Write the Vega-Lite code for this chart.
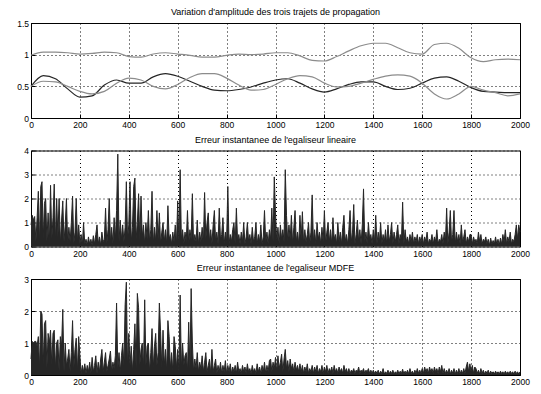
{
"$schema": "https://vega.github.io/schema/vega-lite/v6.json",
"padding": {"left": 16, "top": 7, "right": 5, "bottom": 3},
"spacing": 4.5,
"config": {
 "font": "Liberation Sans",
 "view": {"stroke": "#000", "strokeWidth": 1},
 "axis": {"grid": true, "gridColor": "#000", "gridDash": [1, 3], "gridOpacity": 1, "gridWidth": 1, "domain": false, "ticks": true, "tickSize": -4, "tickColor": "#000", "labelFontSize": 8.5, "labelColor": "#000", "labelPadding": 6.5, "labelFont": "Liberation Sans", "labelFlush": false},
 "title": {"fontSize": 9, "fontWeight": "normal", "color": "#000", "offset": 2, "anchor": "middle", "font": "Liberation Sans"}
},
"datasets": {
 "amp": [
  {"s":"a","x":0,"y":0.99},{"s":"a","x":50,"y":1.04},{"s":"a","x":100,"y":1.04},{"s":"a","x":150,"y":1.03},{"s":"a","x":200,"y":1.01},{"s":"a","x":250,"y":1.02},{"s":"a","x":300,"y":1.04},{"s":"a","x":350,"y":1.03},{"s":"a","x":400,"y":0.97},{"s":"a","x":450,"y":0.96},{"s":"a","x":500,"y":1.01},{"s":"a","x":550,"y":1.03},{"s":"a","x":600,"y":1.01},{"s":"a","x":650,"y":0.99},{"s":"a","x":700,"y":0.96},{"s":"a","x":750,"y":0.96},{"s":"a","x":800,"y":0.99},{"s":"a","x":850,"y":1.01},{"s":"a","x":900,"y":1.0},{"s":"a","x":950,"y":1.01},{"s":"a","x":1000,"y":1.03},{"s":"a","x":1050,"y":1.03},{"s":"a","x":1100,"y":0.98},{"s":"a","x":1150,"y":0.91},{"s":"a","x":1200,"y":0.9},{"s":"a","x":1250,"y":0.97},{"s":"a","x":1300,"y":1.06},{"s":"a","x":1350,"y":1.14},{"s":"a","x":1400,"y":1.18},{"s":"a","x":1450,"y":1.18},{"s":"a","x":1500,"y":1.11},{"s":"a","x":1550,"y":1.03},{"s":"a","x":1600,"y":1.01},{"s":"a","x":1650,"y":1.16},{"s":"a","x":1700,"y":1.18},{"s":"a","x":1750,"y":1.1},{"s":"a","x":1800,"y":0.95},{"s":"a","x":1850,"y":0.89},{"s":"a","x":1900,"y":0.92},{"s":"a","x":1950,"y":0.93},{"s":"a","x":2000,"y":0.92},
  {"s":"b","x":0,"y":0.5},{"s":"b","x":50,"y":0.67},{"s":"b","x":100,"y":0.62},{"s":"b","x":150,"y":0.46},{"s":"b","x":200,"y":0.33},{"s":"b","x":250,"y":0.35},{"s":"b","x":300,"y":0.52},{"s":"b","x":350,"y":0.6},{"s":"b","x":400,"y":0.55},{"s":"b","x":450,"y":0.55},{"s":"b","x":500,"y":0.65},{"s":"b","x":550,"y":0.7},{"s":"b","x":600,"y":0.66},{"s":"b","x":650,"y":0.58},{"s":"b","x":700,"y":0.5},{"s":"b","x":750,"y":0.44},{"s":"b","x":800,"y":0.43},{"s":"b","x":850,"y":0.45},{"s":"b","x":900,"y":0.49},{"s":"b","x":950,"y":0.55},{"s":"b","x":1000,"y":0.6},{"s":"b","x":1050,"y":0.62},{"s":"b","x":1100,"y":0.55},{"s":"b","x":1150,"y":0.46},{"s":"b","x":1200,"y":0.41},{"s":"b","x":1250,"y":0.46},{"s":"b","x":1300,"y":0.53},{"s":"b","x":1350,"y":0.57},{"s":"b","x":1400,"y":0.57},{"s":"b","x":1450,"y":0.5},{"s":"b","x":1500,"y":0.45},{"s":"b","x":1550,"y":0.47},{"s":"b","x":1600,"y":0.55},{"s":"b","x":1650,"y":0.63},{"s":"b","x":1700,"y":0.65},{"s":"b","x":1750,"y":0.58},{"s":"b","x":1800,"y":0.48},{"s":"b","x":1850,"y":0.42},{"s":"b","x":1900,"y":0.41},{"s":"b","x":1950,"y":0.4},{"s":"b","x":2000,"y":0.4},
  {"s":"c","x":0,"y":0.5},{"s":"c","x":50,"y":0.58},{"s":"c","x":100,"y":0.57},{"s":"c","x":150,"y":0.5},{"s":"c","x":200,"y":0.42},{"s":"c","x":250,"y":0.38},{"s":"c","x":300,"y":0.42},{"s":"c","x":350,"y":0.55},{"s":"c","x":400,"y":0.63},{"s":"c","x":450,"y":0.6},{"s":"c","x":500,"y":0.5},{"s":"c","x":550,"y":0.46},{"s":"c","x":600,"y":0.53},{"s":"c","x":650,"y":0.64},{"s":"c","x":700,"y":0.7},{"s":"c","x":750,"y":0.7},{"s":"c","x":800,"y":0.63},{"s":"c","x":850,"y":0.52},{"s":"c","x":900,"y":0.44},{"s":"c","x":950,"y":0.45},{"s":"c","x":1000,"y":0.53},{"s":"c","x":1050,"y":0.62},{"s":"c","x":1100,"y":0.67},{"s":"c","x":1150,"y":0.65},{"s":"c","x":1200,"y":0.55},{"s":"c","x":1250,"y":0.49},{"s":"c","x":1300,"y":0.5},{"s":"c","x":1350,"y":0.55},{"s":"c","x":1400,"y":0.61},{"s":"c","x":1450,"y":0.66},{"s":"c","x":1500,"y":0.68},{"s":"c","x":1550,"y":0.66},{"s":"c","x":1600,"y":0.55},{"s":"c","x":1650,"y":0.38},{"s":"c","x":1700,"y":0.3},{"s":"c","x":1750,"y":0.38},{"s":"c","x":1800,"y":0.5},{"s":"c","x":1850,"y":0.44},{"s":"c","x":1900,"y":0.4},{"s":"c","x":1950,"y":0.35},{"s":"c","x":2000,"y":0.38}
 ],
 "lin": [
  {"x":0,"y":0.9},{"x":5,"y":1.3},{"x":10,"y":1.1},{"x":15,"y":1.25},{"x":20,"y":0.2},{"x":25,"y":1.2},{"x":30,"y":2.3},{"x":35,"y":0.1},{"x":40,"y":2.5},{"x":45,"y":2.7},{"x":50,"y":0.3},{"x":55,"y":1.8},{"x":60,"y":2.0},{"x":65,"y":0.2},{"x":70,"y":1.4},{"x":75,"y":0.1},{"x":80,"y":2.55},{"x":85,"y":0.3},{"x":90,"y":1.2},{"x":95,"y":2.6},
  {"x":100,"y":0.2},{"x":105,"y":2.0},{"x":110,"y":0.4},{"x":115,"y":2.0},{"x":120,"y":0.1},{"x":125,"y":1.1},{"x":130,"y":1.9},{"x":135,"y":0.2},{"x":140,"y":0.9},{"x":145,"y":2.0},{"x":150,"y":0.1},{"x":155,"y":0.8},{"x":160,"y":0.2},{"x":165,"y":1.0},{"x":170,"y":2.1},{"x":175,"y":0.1},{"x":180,"y":0.6},{"x":185,"y":2.0},{"x":190,"y":0.2},{"x":195,"y":0.9},
  {"x":200,"y":0.1},{"x":205,"y":0.5},{"x":210,"y":0.05},{"x":215,"y":1.0},{"x":220,"y":0.1},{"x":225,"y":0.3},{"x":230,"y":0.05},{"x":235,"y":0.4},{"x":240,"y":0.1},{"x":245,"y":0.3},{"x":250,"y":0.05},{"x":255,"y":0.45},{"x":260,"y":0.1},{"x":265,"y":0.5},{"x":270,"y":0.9},{"x":275,"y":0.1},{"x":280,"y":0.4},{"x":285,"y":0.05},{"x":290,"y":0.6},{"x":295,"y":0.2},
  {"x":300,"y":0.3},{"x":305,"y":1.6},{"x":310,"y":0.1},{"x":315,"y":0.7},{"x":320,"y":2.0},{"x":325,"y":0.2},{"x":330,"y":0.8},{"x":335,"y":0.1},{"x":340,"y":1.2},{"x":345,"y":0.3},{"x":350,"y":1.5},{"x":355,"y":3.85},{"x":360,"y":0.2},{"x":365,"y":1.1},{"x":370,"y":0.3},{"x":375,"y":0.9},{"x":380,"y":0.2},{"x":385,"y":0.8},{"x":390,"y":2.7},{"x":395,"y":0.3},
  {"x":400,"y":0.9},{"x":405,"y":2.7},{"x":410,"y":0.2},{"x":415,"y":0.8},{"x":420,"y":2.5},{"x":425,"y":2.85},{"x":430,"y":0.3},{"x":435,"y":1.0},{"x":440,"y":2.2},{"x":445,"y":0.2},{"x":450,"y":2.1},{"x":455,"y":0.4},{"x":460,"y":0.9},{"x":465,"y":0.1},{"x":470,"y":1.0},{"x":475,"y":0.3},{"x":480,"y":1.5},{"x":485,"y":0.2},{"x":490,"y":0.7},{"x":495,"y":2.3},
  {"x":500,"y":0.1},{"x":505,"y":0.8},{"x":510,"y":0.2},{"x":515,"y":1.5},{"x":520,"y":0.3},{"x":525,"y":1.4},{"x":530,"y":0.1},{"x":535,"y":0.6},{"x":540,"y":1.0},{"x":545,"y":0.2},{"x":550,"y":0.7},{"x":555,"y":0.1},{"x":560,"y":1.7},{"x":565,"y":0.3},{"x":570,"y":0.5},{"x":575,"y":0.1},{"x":580,"y":0.6},{"x":585,"y":0.2},{"x":590,"y":0.9},{"x":595,"y":0.1},
  {"x":600,"y":1.9},{"x":605,"y":0.2},{"x":610,"y":3.2},{"x":615,"y":0.3},{"x":620,"y":0.7},{"x":625,"y":0.1},{"x":630,"y":0.6},{"x":635,"y":0.2},{"x":640,"y":1.5},{"x":645,"y":0.1},{"x":650,"y":0.7},{"x":655,"y":0.3},{"x":660,"y":2.2},{"x":665,"y":0.1},{"x":670,"y":0.5},{"x":675,"y":0.2},{"x":680,"y":1.1},{"x":685,"y":0.1},{"x":690,"y":0.6},{"x":695,"y":0.2},
  {"x":700,"y":0.8},{"x":705,"y":0.1},{"x":710,"y":2.25},{"x":715,"y":0.3},{"x":720,"y":1.0},{"x":725,"y":1.4},{"x":730,"y":0.2},{"x":735,"y":0.7},{"x":740,"y":0.1},{"x":745,"y":0.9},{"x":750,"y":1.5},{"x":755,"y":0.2},{"x":760,"y":0.6},{"x":765,"y":0.1},{"x":770,"y":1.6},{"x":775,"y":0.3},{"x":780,"y":0.5},{"x":785,"y":1.2},{"x":790,"y":0.1},{"x":795,"y":0.6},
  {"x":800,"y":0.2},{"x":805,"y":2.5},{"x":810,"y":0.1},{"x":815,"y":0.5},{"x":820,"y":0.2},{"x":825,"y":0.7},{"x":830,"y":1.0},{"x":835,"y":0.1},{"x":840,"y":1.6},{"x":845,"y":0.2},{"x":850,"y":0.5},{"x":855,"y":0.1},{"x":860,"y":0.6},{"x":865,"y":0.2},{"x":870,"y":1.0},{"x":875,"y":0.1},{"x":880,"y":0.4},{"x":885,"y":1.0},{"x":890,"y":0.2},{"x":895,"y":0.5},
  {"x":900,"y":0.1},{"x":905,"y":0.8},{"x":910,"y":0.2},{"x":915,"y":0.4},{"x":920,"y":1.0},{"x":925,"y":0.1},{"x":930,"y":0.5},{"x":935,"y":0.2},{"x":940,"y":0.9},{"x":945,"y":0.1},{"x":950,"y":0.4},{"x":955,"y":1.5},{"x":960,"y":0.2},{"x":965,"y":0.6},{"x":970,"y":0.1},{"x":975,"y":0.7},{"x":980,"y":0.3},{"x":985,"y":1.6},{"x":990,"y":0.2},{"x":995,"y":2.9},
  {"x":1000,"y":1.4},{"x":1005,"y":0.2},{"x":1010,"y":0.8},{"x":1015,"y":0.1},{"x":1020,"y":0.9},{"x":1025,"y":0.3},{"x":1030,"y":0.7},{"x":1035,"y":0.2},{"x":1040,"y":3.2},{"x":1045,"y":1.3},{"x":1050,"y":0.2},{"x":1055,"y":0.9},{"x":1060,"y":0.3},{"x":1065,"y":1.3},{"x":1070,"y":0.1},{"x":1075,"y":0.8},{"x":1080,"y":1.5},{"x":1085,"y":0.2},{"x":1090,"y":0.6},{"x":1095,"y":0.1},
  {"x":1100,"y":1.3},{"x":1105,"y":0.3},{"x":1110,"y":1.45},{"x":1115,"y":0.1},{"x":1120,"y":0.7},{"x":1125,"y":0.2},{"x":1130,"y":0.5},{"x":1135,"y":1.0},{"x":1140,"y":0.1},{"x":1145,"y":0.6},{"x":1150,"y":2.15},{"x":1155,"y":0.2},{"x":1160,"y":0.7},{"x":1165,"y":0.1},{"x":1170,"y":1.0},{"x":1175,"y":0.3},{"x":1180,"y":0.6},{"x":1185,"y":0.1},{"x":1190,"y":0.8},{"x":1195,"y":0.2},
  {"x":1200,"y":1.5},{"x":1205,"y":0.1},{"x":1210,"y":0.6},{"x":1215,"y":1.0},{"x":1220,"y":0.2},{"x":1225,"y":0.7},{"x":1230,"y":0.1},{"x":1235,"y":1.2},{"x":1240,"y":0.3},{"x":1245,"y":0.5},{"x":1250,"y":0.1},{"x":1255,"y":1.0},{"x":1260,"y":0.2},{"x":1265,"y":0.6},{"x":1270,"y":0.1},{"x":1275,"y":0.8},{"x":1280,"y":1.3},{"x":1285,"y":0.2},{"x":1290,"y":0.5},{"x":1295,"y":0.1},
  {"x":1300,"y":0.7},{"x":1305,"y":1.5},{"x":1310,"y":0.2},{"x":1315,"y":0.6},{"x":1320,"y":1.75},{"x":1325,"y":0.1},{"x":1330,"y":0.5},{"x":1335,"y":1.1},{"x":1340,"y":0.2},{"x":1345,"y":0.7},{"x":1350,"y":0.1},{"x":1355,"y":0.9},{"x":1360,"y":2.4},{"x":1365,"y":0.2},{"x":1370,"y":0.6},{"x":1375,"y":0.1},{"x":1380,"y":1.0},{"x":1385,"y":0.3},{"x":1390,"y":0.5},{"x":1395,"y":0.1},
  {"x":1400,"y":0.7},{"x":1405,"y":0.2},{"x":1410,"y":1.3},{"x":1415,"y":0.1},{"x":1420,"y":0.6},{"x":1425,"y":0.2},{"x":1430,"y":1.0},{"x":1435,"y":0.1},{"x":1440,"y":0.5},{"x":1445,"y":0.2},{"x":1450,"y":0.7},{"x":1455,"y":0.1},{"x":1460,"y":0.9},{"x":1465,"y":0.2},{"x":1470,"y":0.5},{"x":1475,"y":1.0},{"x":1480,"y":0.1},{"x":1485,"y":0.6},{"x":1490,"y":0.2},{"x":1495,"y":0.5},
  {"x":1500,"y":0.9},{"x":1505,"y":0.1},{"x":1510,"y":0.5},{"x":1515,"y":0.2},{"x":1520,"y":1.85},{"x":1525,"y":0.1},{"x":1530,"y":0.7},{"x":1535,"y":0.2},{"x":1540,"y":0.4},{"x":1545,"y":0.1},{"x":1550,"y":0.5},{"x":1555,"y":0.2},{"x":1560,"y":0.6},{"x":1565,"y":0.1},{"x":1570,"y":0.4},{"x":1575,"y":0.2},{"x":1580,"y":0.5},{"x":1585,"y":0.1},{"x":1590,"y":0.4},{"x":1595,"y":0.2},
  {"x":1600,"y":0.5},{"x":1605,"y":0.1},{"x":1610,"y":0.4},{"x":1615,"y":0.2},{"x":1620,"y":0.6},{"x":1625,"y":0.1},{"x":1630,"y":0.3},{"x":1635,"y":0.2},{"x":1640,"y":0.5},{"x":1645,"y":0.1},{"x":1650,"y":0.4},{"x":1655,"y":0.2},{"x":1660,"y":0.7},{"x":1665,"y":0.1},{"x":1670,"y":0.3},{"x":1675,"y":0.2},{"x":1680,"y":0.5},{"x":1685,"y":0.1},{"x":1690,"y":0.6},{"x":1695,"y":0.2},
  {"x":1700,"y":1.6},{"x":1705,"y":0.1},{"x":1710,"y":0.6},{"x":1715,"y":1.5},{"x":1720,"y":0.2},{"x":1725,"y":0.5},{"x":1730,"y":1.5},{"x":1735,"y":0.1},{"x":1740,"y":0.6},{"x":1745,"y":0.2},{"x":1750,"y":0.5},{"x":1755,"y":0.1},{"x":1760,"y":0.9},{"x":1765,"y":0.2},{"x":1770,"y":0.4},{"x":1775,"y":0.7},{"x":1780,"y":0.1},{"x":1785,"y":0.4},{"x":1790,"y":0.2},{"x":1795,"y":0.5},
  {"x":1800,"y":0.5},{"x":1805,"y":0.1},{"x":1810,"y":0.4},{"x":1815,"y":0.2},{"x":1820,"y":0.3},{"x":1825,"y":0.1},{"x":1830,"y":0.6},{"x":1835,"y":0.2},{"x":1840,"y":0.5},{"x":1845,"y":0.1},{"x":1850,"y":0.3},{"x":1855,"y":0.2},{"x":1860,"y":0.4},{"x":1865,"y":0.1},{"x":1870,"y":0.3},{"x":1875,"y":0.05},{"x":1880,"y":0.35},{"x":1885,"y":0.1},{"x":1890,"y":0.25},{"x":1895,"y":0.1},
  {"x":1900,"y":0.4},{"x":1905,"y":0.1},{"x":1910,"y":0.3},{"x":1915,"y":0.05},{"x":1920,"y":0.35},{"x":1925,"y":0.1},{"x":1930,"y":0.5},{"x":1935,"y":0.2},{"x":1940,"y":0.7},{"x":1945,"y":0.1},{"x":1950,"y":0.4},{"x":1955,"y":0.2},{"x":1960,"y":0.6},{"x":1965,"y":0.1},{"x":1970,"y":0.3},{"x":1975,"y":0.2},{"x":1980,"y":0.5},{"x":1985,"y":0.9},{"x":1990,"y":0.3},{"x":1995,"y":0.9},{"x":2000,"y":0.6}
 ],
 "mdfe": [
  {"x":0,"y":0.5},{"x":5,"y":1.05},{"x":10,"y":1.0},{"x":15,"y":1.05},{"x":20,"y":1.05},{"x":25,"y":0.9},{"x":30,"y":1.2},{"x":35,"y":0.2},{"x":40,"y":2.0},{"x":45,"y":1.9},{"x":50,"y":0.3},{"x":55,"y":1.6},{"x":60,"y":1.7},{"x":65,"y":0.2},{"x":70,"y":1.3},{"x":75,"y":1.0},{"x":80,"y":1.4},{"x":85,"y":0.3},{"x":90,"y":1.3},{"x":95,"y":1.4},
  {"x":100,"y":0.2},{"x":105,"y":1.0},{"x":110,"y":1.1},{"x":115,"y":0.1},{"x":120,"y":1.2},{"x":125,"y":0.9},{"x":130,"y":2.05},{"x":135,"y":0.1},{"x":140,"y":1.0},{"x":145,"y":0.3},{"x":150,"y":0.5},{"x":155,"y":0.8},{"x":160,"y":0.1},{"x":165,"y":0.7},{"x":170,"y":1.7},{"x":175,"y":0.2},{"x":180,"y":0.8},{"x":185,"y":1.15},{"x":190,"y":0.1},{"x":195,"y":1.2},
  {"x":200,"y":0.6},{"x":205,"y":0.05},{"x":210,"y":0.3},{"x":215,"y":0.1},{"x":220,"y":0.35},{"x":225,"y":0.05},{"x":230,"y":0.3},{"x":235,"y":0.1},{"x":240,"y":0.4},{"x":245,"y":0.05},{"x":250,"y":0.55},{"x":255,"y":0.1},{"x":260,"y":0.3},{"x":265,"y":0.6},{"x":270,"y":0.05},{"x":275,"y":0.4},{"x":280,"y":0.1},{"x":285,"y":0.5},{"x":290,"y":0.8},{"x":295,"y":0.1},
  {"x":300,"y":0.4},{"x":305,"y":0.7},{"x":310,"y":0.1},{"x":315,"y":0.3},{"x":320,"y":0.5},{"x":325,"y":0.75},{"x":330,"y":0.1},{"x":335,"y":0.4},{"x":340,"y":0.2},{"x":345,"y":0.6},{"x":350,"y":2.25},{"x":355,"y":0.2},{"x":360,"y":0.7},{"x":365,"y":0.1},{"x":370,"y":0.6},{"x":375,"y":1.0},{"x":380,"y":0.3},{"x":385,"y":2.2},{"x":390,"y":2.9},{"x":395,"y":0.2},
  {"x":400,"y":1.3},{"x":405,"y":0.3},{"x":410,"y":0.9},{"x":415,"y":0.1},{"x":420,"y":0.8},{"x":425,"y":1.6},{"x":430,"y":0.2},{"x":435,"y":2.55},{"x":440,"y":2.1},{"x":445,"y":0.3},{"x":450,"y":0.8},{"x":455,"y":1.0},{"x":460,"y":0.2},{"x":465,"y":2.35},{"x":470,"y":0.3},{"x":475,"y":0.9},{"x":480,"y":1.0},{"x":485,"y":0.1},{"x":490,"y":0.7},{"x":495,"y":1.45},
  {"x":500,"y":0.2},{"x":505,"y":0.9},{"x":510,"y":1.3},{"x":515,"y":0.3},{"x":520,"y":0.7},{"x":525,"y":2.25},{"x":530,"y":1.35},{"x":535,"y":0.2},{"x":540,"y":1.4},{"x":545,"y":0.3},{"x":550,"y":0.8},{"x":555,"y":0.1},{"x":560,"y":1.7},{"x":565,"y":1.2},{"x":570,"y":0.2},{"x":575,"y":0.7},{"x":580,"y":0.1},{"x":585,"y":1.2},{"x":590,"y":0.9},{"x":595,"y":0.2},
  {"x":600,"y":0.8},{"x":605,"y":0.1},{"x":610,"y":2.5},{"x":615,"y":0.2},{"x":620,"y":1.0},{"x":625,"y":0.3},{"x":630,"y":0.6},{"x":635,"y":0.7},{"x":640,"y":0.1},{"x":645,"y":1.65},{"x":650,"y":0.2},{"x":655,"y":2.7},{"x":660,"y":1.0},{"x":665,"y":0.1},{"x":670,"y":0.5},{"x":675,"y":0.2},{"x":680,"y":0.7},{"x":685,"y":0.1},{"x":690,"y":0.4},{"x":695,"y":0.2},
  {"x":700,"y":0.6},{"x":705,"y":0.1},{"x":710,"y":0.4},{"x":715,"y":0.7},{"x":720,"y":0.1},{"x":725,"y":0.3},{"x":730,"y":0.5},{"x":735,"y":0.05},{"x":740,"y":0.8},{"x":745,"y":0.1},{"x":750,"y":0.3},{"x":755,"y":0.5},{"x":760,"y":0.05},{"x":765,"y":0.3},{"x":770,"y":0.1},{"x":775,"y":0.4},{"x":780,"y":0.05},{"x":785,"y":0.3},{"x":790,"y":0.1},{"x":795,"y":0.45},
  {"x":800,"y":0.05},{"x":805,"y":0.3},{"x":810,"y":0.1},{"x":815,"y":0.35},{"x":820,"y":0.05},{"x":825,"y":0.25},{"x":830,"y":0.1},{"x":835,"y":0.3},{"x":840,"y":0.05},{"x":845,"y":0.4},{"x":850,"y":0.1},{"x":855,"y":0.2},{"x":860,"y":0.05},{"x":865,"y":0.3},{"x":870,"y":0.1},{"x":875,"y":0.25},{"x":880,"y":0.05},{"x":885,"y":0.35},{"x":890,"y":0.1},{"x":895,"y":0.2},
  {"x":900,"y":0.05},{"x":905,"y":0.3},{"x":910,"y":0.1},{"x":915,"y":0.2},{"x":920,"y":0.05},{"x":925,"y":0.35},{"x":930,"y":0.1},{"x":935,"y":0.25},{"x":940,"y":0.05},{"x":945,"y":0.3},{"x":950,"y":0.1},{"x":955,"y":0.4},{"x":960,"y":0.05},{"x":965,"y":0.3},{"x":970,"y":0.1},{"x":975,"y":0.45},{"x":980,"y":0.5},{"x":985,"y":0.1},{"x":990,"y":0.4},{"x":995,"y":0.2},
  {"x":1000,"y":0.55},{"x":1005,"y":0.1},{"x":1010,"y":0.6},{"x":1015,"y":0.2},{"x":1020,"y":0.4},{"x":1025,"y":0.65},{"x":1030,"y":0.1},{"x":1035,"y":0.5},{"x":1040,"y":0.8},{"x":1045,"y":0.2},{"x":1050,"y":0.45},{"x":1055,"y":0.1},{"x":1060,"y":0.5},{"x":1065,"y":0.2},{"x":1070,"y":0.35},{"x":1075,"y":0.1},{"x":1080,"y":0.4},{"x":1085,"y":0.15},{"x":1090,"y":0.3},{"x":1095,"y":0.1},
  {"x":1100,"y":0.35},{"x":1105,"y":0.1},{"x":1110,"y":0.3},{"x":1115,"y":0.05},{"x":1120,"y":0.25},{"x":1125,"y":0.1},{"x":1130,"y":0.35},{"x":1135,"y":0.05},{"x":1140,"y":0.2},{"x":1145,"y":0.1},{"x":1150,"y":0.3},{"x":1155,"y":0.05},{"x":1160,"y":0.25},{"x":1165,"y":0.1},{"x":1170,"y":0.3},{"x":1175,"y":0.05},{"x":1180,"y":0.2},{"x":1185,"y":0.1},{"x":1190,"y":0.3},{"x":1195,"y":0.05},
  {"x":1200,"y":0.25},{"x":1205,"y":0.1},{"x":1210,"y":0.3},{"x":1215,"y":0.05},{"x":1220,"y":0.2},{"x":1225,"y":0.1},{"x":1230,"y":0.25},{"x":1235,"y":0.05},{"x":1240,"y":0.3},{"x":1245,"y":0.1},{"x":1250,"y":0.2},{"x":1255,"y":0.05},{"x":1260,"y":0.25},{"x":1265,"y":0.1},{"x":1270,"y":0.2},{"x":1275,"y":0.05},{"x":1280,"y":0.3},{"x":1285,"y":0.1},{"x":1290,"y":0.2},{"x":1295,"y":0.05},
  {"x":1300,"y":0.2},{"x":1305,"y":0.05},{"x":1310,"y":0.15},{"x":1315,"y":0.1},{"x":1320,"y":0.2},{"x":1325,"y":0.05},{"x":1330,"y":0.15},{"x":1335,"y":0.1},{"x":1340,"y":0.25},{"x":1345,"y":0.05},{"x":1350,"y":0.15},{"x":1355,"y":0.1},{"x":1360,"y":0.2},{"x":1365,"y":0.05},{"x":1370,"y":0.15},{"x":1375,"y":0.1},{"x":1380,"y":0.2},{"x":1385,"y":0.05},{"x":1390,"y":0.15},{"x":1395,"y":0.05},
  {"x":1400,"y":0.15},{"x":1405,"y":0.05},{"x":1410,"y":0.12},{"x":1415,"y":0.05},{"x":1420,"y":0.15},{"x":1425,"y":0.03},{"x":1430,"y":0.12},{"x":1435,"y":0.05},{"x":1440,"y":0.2},{"x":1445,"y":0.03},{"x":1450,"y":0.1},{"x":1455,"y":0.05},{"x":1460,"y":0.15},{"x":1465,"y":0.03},{"x":1470,"y":0.12},{"x":1475,"y":0.05},{"x":1480,"y":0.15},{"x":1485,"y":0.03},{"x":1490,"y":0.1},{"x":1495,"y":0.05},
  {"x":1500,"y":0.15},{"x":1505,"y":0.03},{"x":1510,"y":0.12},{"x":1515,"y":0.05},{"x":1520,"y":0.18},{"x":1525,"y":0.03},{"x":1530,"y":0.12},{"x":1535,"y":0.05},{"x":1540,"y":0.15},{"x":1545,"y":0.03},{"x":1550,"y":0.2},{"x":1555,"y":0.05},{"x":1560,"y":0.12},{"x":1565,"y":0.03},{"x":1570,"y":0.15},{"x":1575,"y":0.05},{"x":1580,"y":0.2},{"x":1585,"y":0.05},{"x":1590,"y":0.15},{"x":1595,"y":0.05},
  {"x":1600,"y":0.2},{"x":1605,"y":0.05},{"x":1610,"y":0.25},{"x":1615,"y":0.1},{"x":1620,"y":0.2},{"x":1625,"y":0.05},{"x":1630,"y":0.25},{"x":1635,"y":0.1},{"x":1640,"y":0.2},{"x":1645,"y":0.05},{"x":1650,"y":0.25},{"x":1655,"y":0.1},{"x":1660,"y":0.2},{"x":1665,"y":0.05},{"x":1670,"y":0.25},{"x":1675,"y":0.1},{"x":1680,"y":0.3},{"x":1685,"y":0.05},{"x":1690,"y":0.2},{"x":1695,"y":0.05},
  {"x":1700,"y":0.15},{"x":1705,"y":0.05},{"x":1710,"y":0.2},{"x":1715,"y":0.03},{"x":1720,"y":0.15},{"x":1725,"y":0.05},{"x":1730,"y":0.2},{"x":1735,"y":0.03},{"x":1740,"y":0.15},{"x":1745,"y":0.05},{"x":1750,"y":0.2},{"x":1755,"y":0.03},{"x":1760,"y":0.15},{"x":1765,"y":0.05},{"x":1770,"y":0.2},{"x":1775,"y":0.05},{"x":1780,"y":0.25},{"x":1785,"y":0.4},{"x":1790,"y":0.1},{"x":1795,"y":0.35},
  {"x":1800,"y":0.1},{"x":1805,"y":0.3},{"x":1810,"y":0.05},{"x":1815,"y":0.25},{"x":1820,"y":0.2},{"x":1825,"y":0.05},{"x":1830,"y":0.15},{"x":1835,"y":0.03},{"x":1840,"y":0.2},{"x":1845,"y":0.05},{"x":1850,"y":0.15},{"x":1855,"y":0.03},{"x":1860,"y":0.12},{"x":1865,"y":0.05},{"x":1870,"y":0.15},{"x":1875,"y":0.03},{"x":1880,"y":0.12},{"x":1885,"y":0.05},{"x":1890,"y":0.1},{"x":1895,"y":0.03},
  {"x":1900,"y":0.12},{"x":1905,"y":0.05},{"x":1910,"y":0.1},{"x":1915,"y":0.03},{"x":1920,"y":0.12},{"x":1925,"y":0.05},{"x":1930,"y":0.1},{"x":1935,"y":0.03},{"x":1940,"y":0.12},{"x":1945,"y":0.05},{"x":1950,"y":0.1},{"x":1955,"y":0.03},{"x":1960,"y":0.12},{"x":1965,"y":0.05},{"x":1970,"y":0.1},{"x":1975,"y":0.03},{"x":1980,"y":0.12},{"x":1985,"y":0.05},{"x":1990,"y":0.1},{"x":1995,"y":0.03},{"x":2000,"y":0.1}
 ]
},
"vconcat": [
 {
  "title": "Variation d'amplitude des trois trajets de propagation",
  "width": 489, "height": 95,
  "data": {"name": "amp"},
  "mark": {"type": "line", "interpolate": "monotone", "strokeWidth": 1.2},
  "encoding": {
   "x": {"field": "x", "type": "quantitative", "title": null, "scale": {"domain": [0, 2000], "nice": false}, "axis": {"values": [0,200,400,600,800,1000,1200,1400,1600,1800,2000], "format": "d"}},
   "y": {"field": "y", "type": "quantitative", "title": null, "scale": {"domain": [0, 1.5], "nice": false}, "axis": {"values": [0, 0.5, 1, 1.5], "format": "~g"}},
   "color": {"field": "s", "type": "nominal", "legend": null, "scale": {"domain": ["a","b","c"], "range": ["#8c8c8c", "#262626", "#8c8c8c"]}}
  }
 },
 {
  "title": "Erreur instantanee de l'egaliseur lineaire",
  "width": 489, "height": 96,
  "data": {"name": "lin"},
  "encoding": {
   "x": {"field": "x", "type": "quantitative", "title": null, "scale": {"domain": [0, 2000], "nice": false}, "axis": {"values": [0,200,400,600,800,1000,1200,1400,1600,1800,2000], "format": "d"}},
   "y": {"field": "y", "type": "quantitative", "title": null, "scale": {"domain": [0, 4], "nice": false}, "axis": {"values": [0, 1, 2, 3, 4]}}
  },
  "layer": [
   {"mark": {"type": "area", "color": "#262626", "opacity": 1}},
   {"mark": {"type": "line", "strokeWidth": 1, "color": "#262626"}}
  ]
 },
 {
  "title": "Erreur instantanee de l'egaliseur MDFE",
  "width": 489, "height": 96,
  "data": {"name": "mdfe"},
  "encoding": {
   "x": {"field": "x", "type": "quantitative", "title": null, "scale": {"domain": [0, 2000], "nice": false}, "axis": {"values": [0,200,400,600,800,1000,1200,1400,1600,1800,2000], "format": "d"}},
   "y": {"field": "y", "type": "quantitative", "title": null, "scale": {"domain": [0, 3], "nice": false}, "axis": {"values": [0, 1, 2, 3]}}
  },
  "layer": [
   {"mark": {"type": "area", "color": "#262626", "opacity": 1}},
   {"mark": {"type": "line", "strokeWidth": 1, "color": "#262626"}}
  ]
 }
]
}
